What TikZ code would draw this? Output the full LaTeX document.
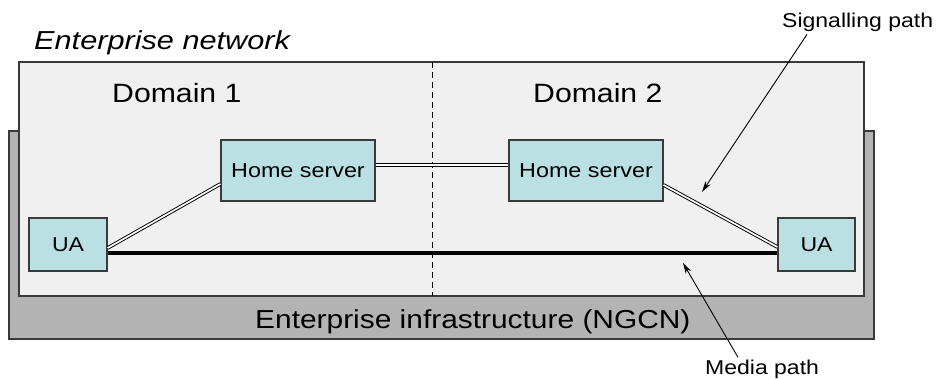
\documentclass[tikz,border=0pt]{standalone}
\usepackage{fontspec}
\setmainfont{Liberation Sans}
\usetikzlibrary{calc,arrows.meta}
\definecolor{infragray}{HTML}{B3B3B3}
\definecolor{netfill}{HTML}{F0F0F0}
\definecolor{boxfill}{HTML}{BAE0E3}
\definecolor{edgecol}{HTML}{3A3A3A}
\newcommand{\txt}[3]{\scalebox{#2}[1]{\fontsize{#1}{#1}\selectfont #3}}
\tikzset{
  region/.style={draw=edgecol, line width=1.4pt, inner sep=0pt},
  infra/.style={region, fill=infragray, line width=1.8pt},
  net/.style={region, fill=netfill},
  entity/.style={draw=edgecol, line width=1.2pt, fill=boxfill, inner sep=0pt, text=black},
  lbl/.style={inner sep=0pt, text=black},
  sig/.style={draw=black, line width=0.95pt, double=white, double distance=1.7pt},
  media/.style={draw=black, line width=4.6pt},
  callout/.style={draw=black, line width=0.9pt, -{Stealth[length=11pt,width=6pt]}},
  divider/.style={draw=black, line width=0.9pt, dash pattern=on 6pt off 4pt}
}
\begin{document}
\begin{tikzpicture}[x=1pt,y=-1pt]
\useasboundingbox (0,0) rectangle (938,379);
% regions
\node[infra, minimum width=865pt, minimum height=208pt] (infrabox) at (441.5,235) {};
\node[net, minimum width=845pt, minimum height=234pt] (netbox) at (441.5,179) {};
\coordinate (divtop) at (432,62);
\coordinate (divbot) at (432,296);
\draw[divider] (divtop) -- (divbot);
% labels
\node[lbl, anchor=base west] (entnet) at (34,50) {\txt{26}{1.18}{\itshape Enterprise network}};
\node[lbl, anchor=base west] (dom1) at (112,103) {\txt{26.5}{1.14}{Domain 1}};
\node[lbl, anchor=base west] (dom2) at (533,103) {\txt{26.5}{1.14}{Domain 2}};
\node[lbl, anchor=base west] (inflbl) at (255,329) {\txt{26}{1.15}{Enterprise infrastructure (NGCN)}};
\node[lbl, anchor=base west] (siglbl) at (782,28) {\txt{20}{1.15}{Signalling path}};
\node[lbl, anchor=base west] (medlbl) at (705,375) {\txt{20}{1.15}{Media path}};
% entities
\node[entity, minimum width=154pt, minimum height=61pt] (hs1) at (298,170.5) {\txt{20.3}{1.15}{Home server}};
\node[entity, minimum width=154pt, minimum height=61pt] (hs2) at (586,170.5) {\txt{20.3}{1.15}{Home server}};
\node[entity, minimum width=78pt, minimum height=53pt] (ua1) at (68,244.5) {\txt{20}{1.15}{UA}};
\node[entity, minimum width=77pt, minimum height=53pt] (ua2) at (816.5,244.5) {\txt{20}{1.15}{UA}};
% paths
\draw[media] ([yshift=-8.5pt]ua1.east) -- ([yshift=-8.5pt]ua2.west);
\draw[sig] ([yshift=-3.5pt]ua1.east) -- ([yshift=-13.5pt]hs1.west);
\draw[sig] ([yshift=5.5pt]hs1.east) -- ([yshift=5.5pt]hs2.west);
\draw[sig] ([yshift=-14.5pt]hs2.east) -- ([yshift=-2.5pt]ua2.west);
% callouts
\coordinate (sigtip) at (702,192);
\coordinate (medtip) at (683,263);
\draw[callout] ($(siglbl.south west)+(25,2)$) -- (sigtip);
\draw[callout] ($(medlbl.north west)+(33,-3)$) -- (medtip);
\end{tikzpicture}
\end{document}
